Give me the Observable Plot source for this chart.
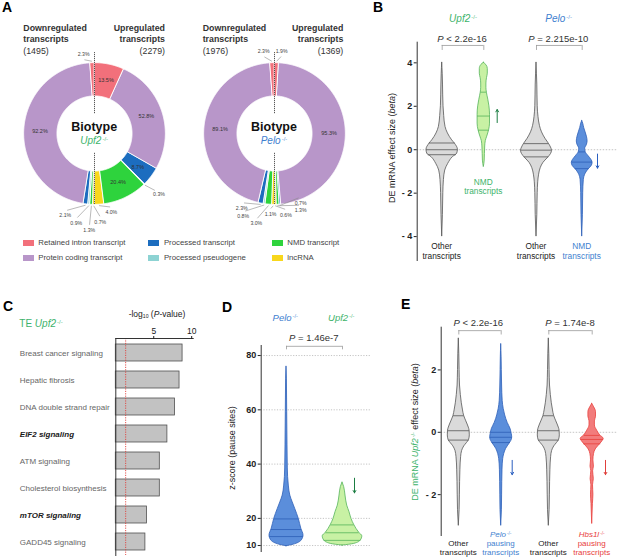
<!DOCTYPE html>
<html><head><meta charset="utf-8">
<script src="https://cdn.jsdelivr.net/npm/d3@7"></script>
<script src="https://cdn.jsdelivr.net/npm/@observablehq/plot@0.6"></script>
<style>
body{margin:0;background:#fff;font-family:"Liberation Sans",Arial,Helvetica,sans-serif;}
#fig{position:relative;width:617px;height:559px;overflow:hidden;background:#fff;}
.abs{position:absolute;white-space:nowrap;}
sup{font-size:60%;vertical-align:0.5em;line-height:0;font-style:normal;margin-left:1px;opacity:.85}
sub{font-size:60%;vertical-align:-0.25em;line-height:0;}
</style></head><body><div id="fig"></div>
<script>
// ================= DATA =================
// Panel A – biotype composition (%) of down/up-regulated transcripts
const biotypes = ["Retained intron transcript","Protein coding transcript","Processed transcript","Processed pseudogene","NMD transcript","lncRNA"];
const biotypeColors = ["#f2707b","#b896c9","#1c6dbf","#8dd3d3","#2ed33d","#f8d71c"];
const upf2Down = [2.3, 92.2, 2.1, 0.9, 1.3, 0.7];
const upf2Up   = [13.5, 52.8, 8.7, 0.3, 20.4, 4.0];
const peloDown = [2.3, 89.1, 2.3, 0.8, 3.0, 1.1];
const peloUp   = [1.9, 95.3, 0.7, 0, 1.3, 0.6];
const upf2Counts = [1495, 2279];
const peloCounts = [1976, 1369];

// Panel B – violin profiles [beta, half-width]
const bUpf2Other = [[4.0,0],[3.5,0.5],[3.0,0.8],[2.5,1.0],[2.0,1.3],[1.55,2.0],[1.05,3.3],[0.75,5.7],[0.43,10],[0.28,12.7],[0.0,15.7],[-0.18,15],[-0.34,10.7],[-0.65,6],[-0.96,3],[-1.4,1.7],[-2.0,1.1],[-3.0,0.7],[-4.0,0]];
const bUpf2OtherQ = [[0.31,12.9],[0.0,15.7],[-0.23,14]];
const bUpf2NMD = [[4.0,0],[3.9,2.5],[3.72,4.0],[3.5,4.0],[3.3,3.2],[3.05,2.6],[2.85,2.6],[2.62,3.1],[2.3,4.5],[2.0,5.6],[1.6,6.2],[1.2,6.2],[0.9,5.3],[0.6,3.4],[0.4,2.0],[0.15,1.4],[-0.2,1.1],[-0.5,0.9],[-0.8,0]];
const bUpf2NMDQ = [[2.65,3.1],[1.55,6.2],[0.9,5.3]];
const bPeloOther = [[4.0,0],[3.0,0.8],[2.0,1.2],[1.5,2.0],[1.1,3.4],[0.8,5.5],[0.5,9],[0.28,12.3],[0.1,14.5],[-0.05,15.5],[-0.2,14.5],[-0.4,11],[-0.6,7],[-0.85,4.2],[-1.15,2.6],[-1.5,1.7],[-2.0,1.2],[-3.0,0.8],[-4.0,0]];
const bPeloOtherQ = [[0.28,12.3],[-0.02,15.4],[-0.33,12.2]];
const bPeloNMD = [[1.32,0],[1.2,1.0],[1.0,2.0],[0.8,3.4],[0.6,4.7],[0.38,5.4],[0.2,4.5],[0.05,3.0],[-0.1,3.4],[-0.3,6.4],[-0.48,9.4],[-0.6,10.4],[-0.75,9.5],[-0.9,6.5],[-1.1,3.5],[-1.4,1.6],[-2.0,1.0],[-3.0,0.7],[-4.0,0]];
const bPeloNMDQ = [[-0.1,3.4],[-0.57,10.3],[-0.87,7.2]];

// Panel C – enriched pathways
const pathways = ["Breast cancer signaling","Hepatic fibrosis","DNA double strand repair","EIF2 signaling","ATM signaling","Cholesterol biosynthesis","mTOR signaling","GADD45 signaling"];
const pathwayLogP = [8.8, 8.4, 7.8, 6.8, 5.8, 5.8, 4.1, 3.9];
const pathwayBold = ["EIF2 signaling","mTOR signaling"];
const pThreshold = 1.3;

// Panel D – z-score of pause sites [z, half-width]
const dPelo = [[9.75,0],[10.2,6],[10.8,11],[11.9,15.3],[13.7,17],[16.2,14.8],[19.8,12.3],[23.5,8.7],[25.9,6.2],[28.4,3.8],[32.1,2.3],[38.4,1.3],[46.9,1.0],[59.1,0.7],[71.5,0.4],[76,0]];
const dPeloQ = [[19.8,12.3],[15.9,15.2],[13.3,16.8]];
const dUpf2 = [[10.0,0],[10.6,11.7],[11.85,18.3],[13.4,19.8],[14.7,16.7],[17.6,11.7],[19.8,9],[22.3,7],[24.7,4.7],[28.4,3],[31.5,1.7],[33.3,0]];
const dUpf2Q = [[17.6,11.7],[14.7,16.7],[11.9,18.3]];

// Panel E – violin profiles [beta, half-width]
const eOther = [[3.0,0],[2.5,0.5],[2.0,0.8],[1.5,1.2],[1.2,2.0],[0.93,3.0],[0.7,4.2],[0.53,5.3],[0.35,7.5],[0.15,10],[0.05,10.8],[-0.1,11],[-0.25,10.2],[-0.35,8],[-0.45,5.5],[-0.6,3.3],[-0.8,2.3],[-1.2,1.6],[-2.0,1.1],[-2.5,0.8],[-3.0,0]];
const eOtherQ = [[0.53,5.3],[0.05,10.8],[-0.25,10.2]];
const ePelo = [[2.82,0],[2.4,0.4],[2.0,0.6],[1.5,0.9],[1.0,1.5],[0.75,2.5],[0.54,4],[0.3,6.5],[0.11,9.3],[-0.05,10.5],[-0.16,11],[-0.25,10.5],[-0.32,9.3],[-0.43,7],[-0.53,5],[-0.7,3],[-0.86,2],[-1.2,1.3],[-2.0,0.9],[-2.5,0.7],[-3.0,0]];
const ePeloQ = [[0.0,10.3],[-0.16,11],[-0.33,9.2]];
const eHbs1l = [[0.91,0],[0.8,2],[0.65,3.8],[0.5,3.8],[0.35,2.7],[0.22,2.7],[0.05,5],[-0.1,8],[-0.21,11.5],[-0.3,10],[-0.43,6.5],[-0.55,3.5],[-0.7,1.8],[-0.9,1.2],[-1.1,1.7],[-1.25,0.9],[-1.5,1.6],[-1.7,0.8],[-2.0,1.2],[-2.3,0.7],[-2.94,0]];
const eHbs1lQ = [[-0.1,8],[-0.23,11.3],[-0.37,8.5]];

// ================= LAYOUT / STYLE =================
const FONT = '"Liberation Sans", Arial, Helvetica, sans-serif';
const GREEN = "#3db36b", BLUE = "#3f7fcf", RED = "#e8403c";
const baseStyle = {fontFamily: FONT, fontSize: "8px", color: "#222", background: "transparent", overflow: "visible"};
const fig = document.getElementById("fig");

function place(node, left, top){ node.style.position="absolute"; node.style.left=left+"px"; node.style.top=top+"px"; fig.appendChild(node); }
function label(html, x, y, o={}){
  const d=document.createElement("div"); d.className="abs"; d.innerHTML=html;
  const a=o.anchor||"middle";
  Object.assign(d.style,{left:x+"px",top:y+"px",fontSize:(o.size||8)+"px",color:o.color||"#222",fontWeight:o.weight||"normal",fontStyle:o.style||"normal",lineHeight:o.lh?o.lh+"px":"1",textAlign:a==="middle"?"center":a==="end"?"right":"left"});
  const tx=a==="middle"?"-50%":a==="end"?"-100%":"0";
  d.style.transform=`translate(${tx},-50%)`+(o.rotate?` rotate(${o.rotate}deg)`:"");
  fig.appendChild(d); return d;
}

// ---------- Panel A: donuts ----------
const RIN = 0.53, DR = 1.27;
const upf2Outside = [
  {half:"down",i:0,a:-7.8,r:1.13},{half:"up",i:3,a:133.3,r:1.25},{half:"up",i:5,a:168,r:1.14},
  {half:"down",i:5,a:176.3,r:1.25},{half:"down",i:4,a:-176.9,r:1.37},{half:"down",i:3,a:-168.5,r:1.29},{half:"down",i:2,a:-160.4,r:1.23}];
const peloOutside = [
  {half:"down",i:0,a:-7.5,r:1.17},{half:"up",i:0,a:4.9,r:1.17},{half:"down",i:2,a:-156.3,r:1.15},
  {half:"down",i:3,a:-159.3,r:1.25},{half:"down",i:4,a:-168.6,r:1.30},{half:"down",i:5,a:-177.2,r:1.14},
  {half:"up",i:5,a:172,r:1.16},{half:"up",i:4,a:161.3,r:1.15},{half:"up",i:2,a:159.4,r:1.05}];
const rad = a => a*Math.PI/180;
const px = (r,a) => r*Math.sin(rad(a)), py = (r,a) => r*Math.cos(rad(a));
function segs(vals, sign){
  const tot=d3.sum(vals); let c=0;
  return vals.map((v,i)=>{const a0=c/tot*180*sign; c+=v; const a1=c/tot*180*sign; return {i,v,a0,a1,mid:(a0+a1)/2};});
}
function ringPts(s){
  const n=Math.max(2,Math.ceil(Math.abs(s.a1-s.a0)*2)); const out=[], inn=[];
  for(let k=0;k<=n;k++){const a=s.a0+(s.a1-s.a0)*k/n; out.push([px(1,a),py(1,a)]); inn.push([px(RIN,a),py(RIN,a)]);}
  return out.concat(inn.reverse());
}
function donutPlot(down, up, outside){
  const sd=segs(down,-1), su=segs(up,1);
  const all=[...sd,...su].filter(s=>s.v>0);
  const pts=all.flatMap((s,k)=>ringPts(s).map(([x,y])=>({x,y,k,color:biotypeColors[s.i]})));
  const inside=all.filter(s=>s.v>=5);
  const outs=outside.map(o=>{const s=(o.half==="down"?sd:su)[o.i]; return {...o,v:s.v,mid:s.mid};});
  const fmt=v=>v.toFixed(1)+"%";
  return Plot.plot({
    width:180,height:180,margin:0,style:baseStyle,
    x:{domain:[-DR,DR],axis:null},y:{domain:[-DR,DR],axis:null},color:{type:"identity"},
    marks:[
      Plot.line(pts,{x:"x",y:"y",z:"k",fill:"color",stroke:"white",strokeWidth:0.9,curve:"linear-closed"}),
      Plot.ruleX([0],{y1:0.28,y2:1.14,stroke:"#222",strokeDasharray:"1,1",strokeWidth:0.9}),
      Plot.ruleX([0],{y1:-0.28,y2:-1.0,stroke:"#222",strokeDasharray:"1,1",strokeWidth:0.9}),
      Plot.link(outs,{x1:d=>px(1.02,d.mid),y1:d=>py(1.02,d.mid),x2:d=>px(d.r-0.08,d.a),y2:d=>py(d.r-0.08,d.a),stroke:"#8a8a8a",strokeWidth:0.6}),
      Plot.text(inside,{x:d=>px(0.77,d.mid),y:d=>py(0.77,d.mid),text:d=>fmt(d.v),fontSize:5.5,fill:"#333"}),
      Plot.text(outs,{x:d=>px(d.r,d.a),y:d=>py(d.r,d.a),text:d=>fmt(d.v),fontSize:5.2,fill:"#444"})
    ]});
}
place(donutPlot(upf2Down, upf2Up, upf2Outside), 4.2, 43);
place(donutPlot(peloDown, peloUp, peloOutside), 184, 43);

label("A",2,6.7,{anchor:"start",size:14,weight:"bold",color:"#000"});
const hdr=(w,n)=>`<b>${w}<br>transcripts</b><br>(${n})`;
label(hdr("Downregulated",upf2Counts[0]),23.3,39.7,{anchor:"start",size:8.8,lh:11.4,color:"#333"});
label(hdr("Upregulated",upf2Counts[1]),165,39.7,{anchor:"end",size:8.8,lh:11.4,color:"#333"});
label(hdr("Downregulated",peloCounts[0]),202.7,39.7,{anchor:"start",size:8.8,lh:11.4,color:"#333"});
label(hdr("Upregulated",peloCounts[1]),343.3,39.7,{anchor:"end",size:8.8,lh:11.4,color:"#333"});
label("Biotype",94.2,126.5,{size:12.5,weight:"bold",color:"#111"});
label("<i>Upf2</i><sup>-/-</sup>",94.2,140.7,{size:10,color:GREEN});
label("Biotype",274,126.5,{size:12.5,weight:"bold",color:"#111"});
label("<i>Pelo</i><sup>-/-</sup>",274,140.7,{size:10,color:BLUE});
// legend
const legCols=[22.7,148.3,271.7], legRows=[243,258];
biotypes.forEach((b,i)=>{
  const cx=legCols[Math.floor(i/2)], cy=legRows[i%2];
  const sw=document.createElement("div"); sw.className="abs";
  Object.assign(sw.style,{left:cx+"px",top:(cy-3)+"px",width:"11px",height:"6px",background:biotypeColors[i]});
  fig.appendChild(sw);
  label(b,cx+15.6,cy,{anchor:"start",size:7.8,color:"#444"});
});

// ---------- helpers for violins ----------
function violin(profile,pos,quart,fill,stroke){
  const rows=profile.map(([v,w])=>({v,w}));
  return [
    Plot.areaX(rows,{y:"v",x1:d=>pos-d.w,x2:d=>pos+d.w,fill,stroke,strokeWidth:0.8,curve:"monotone-y"}),
    Plot.ruleY(quart.map(([v,w])=>({v,w})),{y:"v",x1:d=>pos-d.w,x2:d=>pos+d.w,stroke,strokeWidth:0.8})
  ];
}
function bracket(a,b,yTop,yBot){
  return [Plot.ruleY([yTop],{x1:a,x2:b,stroke:"#9a9a9a",strokeWidth:0.8}),
          Plot.ruleX([a,b],{x:d=>d,y1:yTop,y2:yBot,stroke:"#9a9a9a",strokeWidth:0.8})];
}
const negFmt=d=>d<0?"- "+(-d):String(d);

// ---------- Panel B ----------
const bPos=[25,66.6,119.3,165];
const GRAYF="#dadada", GRAYS="#555";
place(Plot.plot({
  width:232,height:270,marginLeft:31.7,marginRight:0.3,marginTop:41.7,marginBottom:10,style:baseStyle,
  x:{domain:[0,200],axis:null},y:{domain:[-5.1,4.95],axis:null},
  marks:[
    Plot.ruleY([0],{x1:0,x2:200,stroke:"#aaa",strokeDasharray:"1.5,1.5",strokeWidth:0.7}),
    ...violin(bUpf2Other,bPos[0],bUpf2OtherQ,GRAYF,GRAYS),
    ...violin(bUpf2NMD,bPos[1],bUpf2NMDQ,"#c8f1a4","#55b45a"),
    ...violin(bPeloOther,bPos[2],bPeloOtherQ,GRAYF,GRAYS),
    ...violin(bPeloNMD,bPos[3],bPeloNMDQ,"#5b8edb","#2d5fb8"),
    ...bracket(bPos[0],bPos[1],4.80,4.57),
    ...bracket(bPos[2],bPos[3],4.80,4.57),
    Plot.arrow([{x:80,a:1.25,b:1.85}],{x1:"x",y1:"a",x2:"x",y2:"b",stroke:"#1b7d42",strokeWidth:1,headLength:4}),
    Plot.arrow([{x:180.3,a:-0.2,b:-0.85}],{x1:"x",y1:"a",x2:"x",y2:"b",stroke:"#2a5fc0",strokeWidth:1,headLength:4}),
    Plot.frame({anchor:"left",stroke:"#333"}),
    Plot.axisY({ticks:[-4,-2,0,2,4],tickFormat:negFmt,tickSize:3,tickPadding:2,fontSize:9,fontWeight:"bold",label:null})
  ]}), 385, 0);
label("B",373,6.5,{anchor:"start",size:14,weight:"bold",color:"#000"});
label("<i>Upf2</i><sup>-/-</sup>",463,19.3,{size:10,color:GREEN});
label("<i>Pelo</i><sup>-/-</sup>",558.7,19.3,{size:10,color:BLUE});
label("<i>P</i> &lt; 2.2e-16",462,39,{size:9.5,color:"#333"});
label("<i>P</i> = 2.215e-10",558.3,39,{size:9.5,color:"#333"});
label("DE mRNA effect size (<i>beta</i>)",392,148,{size:9,color:"#222",rotate:-90});
label("Other<br>transcripts",441.7,251.3,{size:8.3,lh:9.3,color:"#222"});
label("NMD<br>transcripts",483.3,186.7,{size:8.3,lh:9.3,color:GREEN});
label("Other<br>transcripts",536,251.3,{size:8.3,lh:9.3,color:"#222"});
label("NMD<br>transcripts",581.7,251.3,{size:8.3,lh:9.3,color:BLUE});

// ---------- Panel C ----------
const cRows=pathways.map((p,i)=>({p,v:pathwayLogP[i],bold:pathwayBold.includes(p)}));
place(Plot.plot({
  width:200,height:264,marginLeft:115.3,marginRight:7.3,marginTop:43,marginBottom:4,style:baseStyle,
  x:{domain:[0,10.2],axis:null},y:{domain:pathways,paddingInner:0.375,paddingOuter:0.2,axis:null},
  marks:[
    Plot.barX(cRows,{x:"v",y:"p",fill:"#c2c2c2",stroke:"#505050",strokeWidth:0.8}),
    Plot.ruleX([pThreshold],{stroke:"#e0413c",strokeDasharray:"1.2,1.2",strokeWidth:0.9}),
    Plot.frame({anchor:"left",stroke:"#333"}),
    Plot.frame({anchor:"top",stroke:"#333"}),
    Plot.axisX({anchor:"top",ticks:[5,10],tickSize:3,tickPadding:1.5,fontSize:8.5,label:null}),
    Plot.text(cRows.filter(d=>!d.bold),{y:"p",text:"p",frameAnchor:"left",dx:-96,textAnchor:"start",fontSize:8,fill:"#666"}),
    Plot.text(cRows.filter(d=>d.bold),{y:"p",text:"p",frameAnchor:"left",dx:-96,textAnchor:"start",fontSize:8,fill:"#1a1a1a",fontWeight:"bold",fontStyle:"italic"})
  ]}), 0, 295);
label("C",3,306,{anchor:"start",size:14,weight:"bold",color:"#000"});
label("TE <i>Upf2</i><sup>-/-</sup>",19.3,324.3,{anchor:"start",size:10,color:GREEN});
label("-log<sub>10</sub> (<i>P</i>-value)",157,314.3,{size:8.5,color:"#222"});

// ---------- Panel D ----------
const dPos=[25.3,81.3];
place(Plot.plot({
  width:180,height:264,marginLeft:60.7,marginRight:0,marginTop:50,marginBottom:8,style:baseStyle,
  x:{domain:[0,119.3],axis:null},y:{domain:[7.8,83.7],axis:null},
  marks:[
    Plot.ruleY([10,20,40,60,80],{x1:0,x2:109.3,stroke:"#aaa",strokeDasharray:"1.2,1.5",strokeWidth:0.7}),
    ...violin(dPelo,dPos[0],dPeloQ,"#5b8edb","#2d5fb8"),
    ...violin(dUpf2,dPos[1],dUpf2Q,"#c8f1a4","#55b45a"),
    ...bracket(dPos[0],dPos[1],83.4,82.1),
    Plot.arrow([{x:93.3,a:34.8,b:29.4}],{x1:"x",y1:"a",x2:"x",y2:"b",stroke:"#1b7d42",strokeWidth:1,headLength:4}),
    Plot.frame({anchor:"left",stroke:"#333"}),
    Plot.axisY({ticks:[10,20,40,60,80],tickSize:3,tickPadding:2,fontSize:9,fontWeight:"bold",label:null})
  ]}), 200, 295);
label("D",222,306.5,{anchor:"start",size:14,weight:"bold",color:"#000"});
label("<i>Pelo</i><sup>-/-</sup>",285.3,317.7,{size:9.5,color:BLUE});
label("<i>Upf2</i><sup>-/-</sup>",341.3,317.7,{size:9.5,color:GREEN});
label("<i>P</i> = 1.46e-7",313.8,338.3,{size:9.5,color:"#333"});
label("z-score (pause sites)",231.7,448.3,{size:9,color:"#222",rotate:-90});

// ---------- Panel E ----------
const ePos=[17.6,60,107.6,151];
place(Plot.plot({
  width:217,height:264,marginLeft:40.7,marginRight:0,marginTop:31.7,marginBottom:24,style:baseStyle,
  x:{domain:[0,176.3],axis:null},y:{domain:[-3.31,3.37],axis:null},
  marks:[
    Plot.ruleY([0],{x1:0,x2:176.3,stroke:"#aaa",strokeDasharray:"1.5,1.5",strokeWidth:0.7}),
    ...violin(eOther,ePos[0],eOtherQ,GRAYF,GRAYS),
    ...violin(ePelo,ePos[1],ePeloQ,"#5b8edb","#2d5fb8"),
    ...violin(eOther,ePos[2],eOtherQ,GRAYF,GRAYS),
    ...violin(eHbs1l,ePos[3],eHbs1lQ,"#f27c7c","#e8403c"),
    ...bracket(ePos[0],ePos[1],3.26,3.12),
    ...bracket(ePos[2],ePos[3],3.26,3.12),
    Plot.arrow([{x:71,a:-0.9,b:-1.36}],{x1:"x",y1:"a",x2:"x",y2:"b",stroke:"#2a5fc0",strokeWidth:1,headLength:4}),
    Plot.arrow([{x:164.3,a:-0.9,b:-1.36}],{x1:"x",y1:"a",x2:"x",y2:"b",stroke:"#e0403c",strokeWidth:1,headLength:4}),
    Plot.frame({anchor:"left",stroke:"#333"}),
    Plot.axisY({ticks:[-2,0,2],tickFormat:negFmt,tickSize:3,tickPadding:2,fontSize:9,fontWeight:"bold",label:null})
  ]}), 400, 295);
label("E",401,304,{anchor:"start",size:14,weight:"bold",color:"#000"});
label("<i>P</i> &lt; 2.2e-16",478.3,323.3,{size:9.5,color:"#333"});
label("<i>P</i> = 1.74e-8",570,323.3,{size:9.5,color:"#333"});
label(`<span style="color:${GREEN}">DE mRNA <i>Upf2</i><sup>-/-</sup></span> effect size (<i>beta</i>)`,415,432,{size:9,color:"#222",rotate:-90});
label("Other<br>transcripts",458.3,547.7,{size:8,lh:9,color:"#222"});
label("<i>Pelo</i><sup>-/-</sup><br>pausing<br>transcripts",500.7,543.3,{size:8,lh:9,color:BLUE});
label("Other<br>transcripts",548.3,547.7,{size:8,lh:9,color:"#222"});
label("<i>Hbs1l</i><sup>-/-</sup><br>pausing<br>transcripts",591.7,543.3,{size:8,lh:9,color:RED});
</script></body></html>
